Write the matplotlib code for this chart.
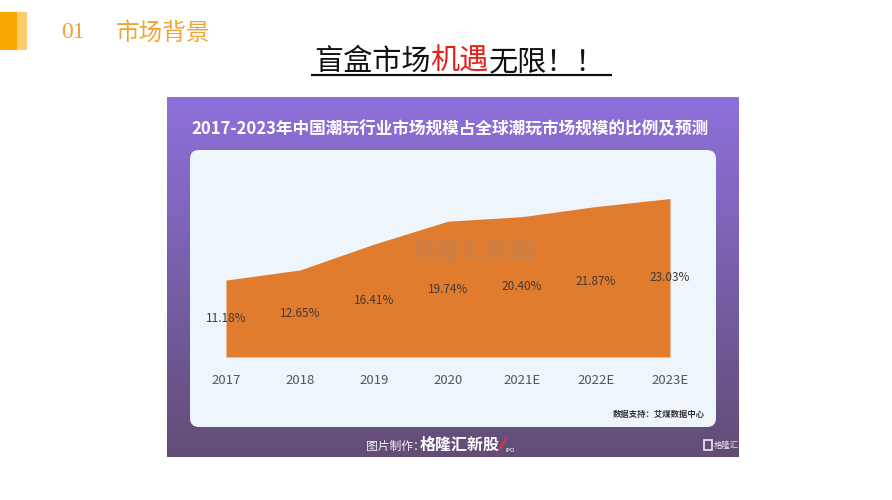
import numpy as np
import matplotlib
matplotlib.use("Agg")
import matplotlib.pyplot as plt
from matplotlib.patches import Rectangle, FancyBboxPatch
from matplotlib.colors import to_rgb

plt.rcParams["font.family"] = ["Noto Sans CJK SC", "DejaVu Sans"]

# data
years = ["2017", "2018", "2019", "2020", "2021E", "2022E", "2023E"]
share = [11.18, 12.65, 16.41, 19.74, 20.40, 21.87, 23.03]

sTitle_chart = "2017-2023年中国潮玩行业市场规模占全球潮玩市场规模的比例及预测"
sSource = "数据支持：艾煤数据中心"

fig = plt.figure(figsize=(8.92, 5.0), dpi=100)
fig.patch.set_facecolor("white")
r = fig.canvas.get_renderer()

# background axes in pixel coordinates
bg = fig.add_axes([0, 0, 1, 1])
bg.set_xlim(0, 892)
bg.set_ylim(500, 0)
bg.axis("off")

# header bar
bg.add_patch(Rectangle((0, 12), 17, 38, color="#F6A800", lw=0))
bg.add_patch(Rectangle((17, 12), 10, 38, color="#FDCB6B", lw=0))
bg.text(61, 33, "01", fontsize=17, color="#EDA636", va="center", ha="left",
        family=["Liberation Serif", "DejaVu Serif"])
bg.text(116, 33, "市场背景", fontsize=17, color="#EDA636", va="center", ha="left")

# main title with red words and underline
x0 = 314
parts = [("盲盒市场", "#111111"), ("机遇", "#E3211B"), ("无限！！", "#111111")]
for s, c in parts:
    t = bg.text(x0, 62, s, fontsize=21, color=c, va="center", ha="left")
    x0 += t.get_window_extent(renderer=r).width
bg.plot([311, 612], [75, 75], color="#111111", lw=1.6, solid_capstyle="butt")

# purple gradient panel
top = np.array(to_rgb("#8D71DC"))
bot = np.array(to_rgb("#624D76"))
tt = np.linspace(0, 1, 200)[:, None]
grad = (top[None, :] * (1 - tt) + bot[None, :] * tt)[:, None, :]
bg.imshow(grad, extent=[167, 739, 457, 97], aspect="auto", interpolation="bilinear", zorder=1)
bg.set_xlim(0, 892)
bg.set_ylim(500, 0)

bg.text(450, 129, sTitle_chart, fontsize=12, fontweight="bold", color="white",
        ha="center", va="center", zorder=3)

bg.add_patch(FancyBboxPatch((190, 150), 526, 277, boxstyle="round,pad=0,rounding_size=9",
                            fc="#EEF6FC", ec="none", zorder=2))

bg.text(705, 414, sSource, fontsize=6, fontweight="bold", color="#333333",
        ha="right", va="center", zorder=3)

# footer
bg.text(366, 446, "图片制作：", fontsize=8.5, color="#F2F2F2", ha="left", va="center", zorder=3)
t = bg.text(420, 445, "格隆汇新股", fontsize=11.5, fontweight="bold",
            color="white", ha="left", va="center", zorder=3)
xe = 420 + t.get_window_extent(renderer=r).width
bg.plot([xe, xe + 6], [449, 438], color="#E0303A", lw=1.5, zorder=3)
bg.text(xe + 6, 450, "IPO", fontsize=4, color="white", ha="left", va="center", zorder=3)
bg.add_patch(Rectangle((704, 440), 8, 10, fc="none", ec="#EDEDED", lw=1.2, zorder=3))
bg.text(714, 445, "格隆汇", fontsize=6, color="#EDEDED", ha="left", va="center", zorder=3)

# area chart axes
ax = fig.add_axes([190 / 892, (500 - 357) / 500, 526 / 892, 177 / 500])
ax.patch.set_alpha(0)
x = np.arange(len(years))
ax.fill_between(x, share, 0, color="#E17B2D", lw=0, zorder=2)
for i, v in zip(x, share):
    ax.text(i, v / 2, f"{v:.2f}%", fontsize=8.5, color="#3F3A36",
            ha="center", va="center", zorder=4)
ax.text(3.35, 15.3, "格隆汇新股", fontsize=18, fontweight="bold",
        color="#8C8C8C", alpha=0.25, ha="center", va="center", zorder=3)
ax.set_xlim(-36 / 74, 6 + 46 / 74)
ax.set_ylim(0, 177 / 6.88)
ax.set_xticks(x, years)
ax.tick_params(axis="x", length=0, pad=12, labelsize=9.5, labelcolor="#555555")
ax.set_yticks([])
for sp in ax.spines.values():
    sp.set_visible(False)

plt.savefig("out.png", dpi=100)
